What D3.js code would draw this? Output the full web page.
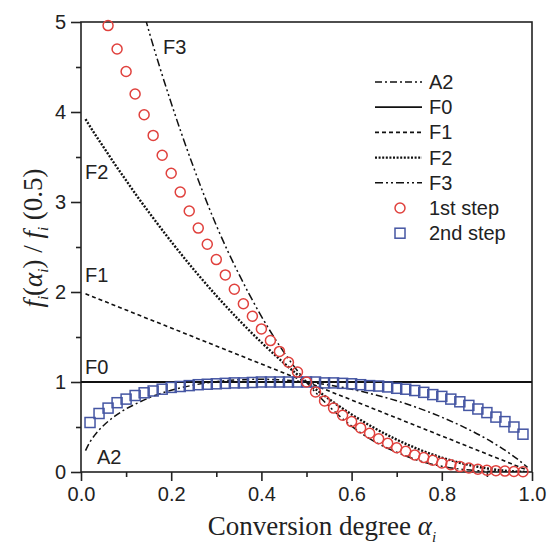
<!DOCTYPE html>
<html>
<head>
<meta charset="utf-8">
<style>
  body { margin: 0; background: #fff; }
  .tick text { font-family: "Liberation Sans", Arial, sans-serif; font-size: 20px; fill: #222; }
  .tick line { stroke: #222; stroke-width: 1.6; }
  .lbl { font-family: "Liberation Sans", Arial, sans-serif; font-size: 20px; fill: #222; }
  .title { font-family: "Liberation Serif", "Times New Roman", serif; font-size: 27px; fill: #222; }
</style>
</head>
<body>
<script src="https://d3js.org/d3.v7.min.js"></script>
<div id="chart"></div>
<script>
// model curves
var alphaLine = [0.01, 0.02, 0.03, 0.05, 0.075, 0.10, 0.125, 0.15, 0.20, 0.25, 0.30, 0.35, 0.40, 0.45, 0.50,
                 0.55, 0.60, 0.65, 0.70, 0.75, 0.80, 0.85, 0.90, 0.95, 0.97, 0.99];
var A2 = [0.238, 0.335, 0.407, 0.517, 0.620, 0.702, 0.765, 0.823, 0.908, 0.966, 1.004, 1.025, 1.030, 1.022, 1.000,
          0.966, 0.920, 0.861, 0.791, 0.707, 0.609, 0.496, 0.365, 0.208, 0.135, 0.052];
var F0 = [1, 1, 1, 1, 1, 1, 1, 1, 1, 1, 1, 1, 1, 1, 1, 1, 1, 1, 1, 1, 1, 1, 1, 1, 1, 1];
var F1 = [1.98, 1.96, 1.94, 1.90, 1.85, 1.80, 1.75, 1.70, 1.60, 1.50, 1.40, 1.30, 1.20, 1.10, 1.00,
          0.90, 0.80, 0.70, 0.60, 0.50, 0.40, 0.30, 0.20, 0.10, 0.06, 0.02];
var F2 = [3.92, 3.84, 3.76, 3.61, 3.42, 3.24, 3.06, 2.89, 2.56, 2.25, 1.96, 1.69, 1.44, 1.21, 1.00,
          0.81, 0.64, 0.49, 0.36, 0.25, 0.16, 0.09, 0.04, 0.01, 0.004, 0.0004];
var F3 = [7.76, 7.53, 7.30, 6.86, 6.33, 5.83, 5.36, 4.91, 4.10, 3.38, 2.74, 2.20, 1.73, 1.33, 1.00,
          0.73, 0.51, 0.34, 0.22, 0.125, 0.064, 0.027, 0.008, 0.001, 0.0002, 0.0];

// experimental points
var alpha1 = [0.06, 0.08, 0.10, 0.12, 0.14, 0.16, 0.18, 0.20, 0.22, 0.24, 0.26, 0.28, 0.30, 0.32, 0.34, 0.36,
              0.38, 0.40, 0.42, 0.44, 0.46, 0.48, 0.50, 0.52, 0.54, 0.56, 0.58, 0.60, 0.62, 0.64, 0.66, 0.68,
              0.70, 0.72, 0.74, 0.76, 0.78, 0.80, 0.82, 0.84, 0.86, 0.88, 0.90, 0.92, 0.94, 0.96, 0.98];
var step1 = [4.96, 4.70, 4.45, 4.20, 3.97, 3.74, 3.52, 3.32, 3.11, 2.90, 2.71, 2.53, 2.36, 2.19, 2.03, 1.87,
             1.73, 1.59, 1.46, 1.34, 1.22, 1.11, 1.00, 0.89, 0.79, 0.71, 0.63, 0.56, 0.49, 0.43, 0.37, 0.32,
             0.27, 0.23, 0.19, 0.16, 0.13, 0.10, 0.08, 0.06, 0.045, 0.03, 0.02, 0.015, 0.01, 0.006, 0.003];
var alpha2 = [0.02, 0.04, 0.06, 0.08, 0.10, 0.12, 0.14, 0.16, 0.18, 0.20, 0.22, 0.24, 0.26, 0.28, 0.30, 0.32,
              0.34, 0.36, 0.38, 0.40, 0.42, 0.44, 0.46, 0.48, 0.50, 0.52, 0.54, 0.56, 0.58, 0.60, 0.62, 0.64,
              0.66, 0.68, 0.70, 0.72, 0.74, 0.76, 0.78, 0.80, 0.82, 0.84, 0.86, 0.88, 0.90, 0.92, 0.94, 0.96, 0.98];
var step2 = [0.55, 0.65, 0.71, 0.77, 0.81, 0.85, 0.88, 0.90, 0.92, 0.94, 0.95, 0.96, 0.97, 0.975, 0.98, 0.985,
             0.99, 0.99, 0.995, 1.0, 1.0, 1.0, 1.0, 1.0, 1.0, 1.0, 0.99, 0.99, 0.985, 0.98, 0.97, 0.96,
             0.955, 0.945, 0.93, 0.92, 0.905, 0.885, 0.86, 0.84, 0.81, 0.78, 0.74, 0.70, 0.66, 0.61, 0.56, 0.50, 0.42];

var xTicks = [0, 0.2, 0.4, 0.6, 0.8, 1.0];
var yTicks = [0, 1, 2, 3, 4, 5];

var width = 547, height = 545;
var x = d3.scaleLinear().domain([0, 1]).range([81, 532]);
var y = d3.scaleLinear().domain([0, 5]).range([472, 22]);

var svg = d3.select("#chart").append("svg")
    .attr("width", width)
    .attr("height", height);

svg.append("clipPath").attr("id", "clip")
  .append("rect")
    .attr("x", x(0)).attr("y", y(5))
    .attr("width", x(1) - x(0)).attr("height", y(0) - y(5));

// axes with minor ticks
svg.append("g").attr("transform", "translate(" + x(0) + ",0)")
    .call(d3.axisLeft(y).tickValues([0.5, 1.5, 2.5, 3.5, 4.5]).tickSize(5).tickFormat(""));
svg.append("g").attr("transform", "translate(" + x(0) + ",0)")
    .call(d3.axisLeft(y).tickValues(yTicks).tickSize(10).tickPadding(5).tickFormat(d3.format("d")));
svg.append("g").attr("transform", "translate(0," + y(0) + ")")
    .call(d3.axisBottom(x).tickValues([0.1, 0.3, 0.5, 0.7, 0.9]).tickSize(5).tickFormat(""));
svg.append("g").attr("transform", "translate(0," + y(0) + ")")
    .call(d3.axisBottom(x).tickValues(xTicks).tickSize(9).tickPadding(6).tickFormat(d3.format(".1f")));
svg.selectAll(".domain").remove();

svg.append("rect")
    .attr("x", x(0)).attr("y", y(5))
    .attr("width", x(1) - x(0)).attr("height", y(0) - y(5))
    .attr("fill", "none").attr("stroke", "#222").attr("stroke-width", 1.6);

// lines
var series = [
  { name: "A2", vals: A2, dash: "7,3,2,3", w: 1.5 },
  { name: "F0", vals: F0, dash: null, w: 1.8 },
  { name: "F1", vals: F1, dash: "4,3", w: 1.6 },
  { name: "F2", vals: F2, dash: "2,1.6", w: 2.4 },
  { name: "F3", vals: F3, dash: "8,3,2,3,2,3", w: 1.5 }
];

var line = d3.line()
    .x(function(d) { return x(d[0]); })
    .y(function(d) { return y(d[1]); })
    .curve(d3.curveMonotoneX);

var plot = svg.append("g").attr("clip-path", "url(#clip)");

series.forEach(function(s) {
  var pts = alphaLine.map(function(a, i) { return [a, s.vals[i]]; });
  if (s.name == "F0") pts = [[0, 1], [1, 1]];
  plot.append("path")
    .datum(pts)
    .attr("d", line)
    .attr("fill", "none")
    .attr("stroke", "#111")
    .attr("stroke-width", s.w)
    .attr("stroke-dasharray", s.dash);
});

// points
var red = "#e0413d", blue = "#4556a3";
svg.selectAll(".sq")
    .data(alpha2)
  .enter().append("rect")
    .attr("class", "sq")
    .attr("x", function(d) { return x(d) - 5; })
    .attr("y", function(d, i) { return y(step2[i]) - 5; })
    .attr("width", 10).attr("height", 10)
    .attr("fill", "none").attr("stroke", blue).attr("stroke-width", 1.5);

svg.selectAll(".dot")
    .data(alpha1)
  .enter().append("circle")
    .attr("class", "dot")
    .attr("cx", function(d) { return x(d); })
    .attr("cy", function(d, i) { return y(step1[i]); })
    .attr("r", 5)
    .attr("fill", "none").attr("stroke", red).attr("stroke-width", 1.5);

// curve labels
var curveLabels = [
  { t: "F3", x: 163, y: 54 },
  { t: "F2", x: 85, y: 179 },
  { t: "F1", x: 85, y: 282 },
  { t: "F0", x: 85, y: 374 },
  { t: "A2", x: 97, y: 464 }
];
svg.selectAll(".clbl")
    .data(curveLabels)
  .enter().append("text")
    .attr("class", "lbl")
    .attr("x", function(d) { return d.x; })
    .attr("y", function(d) { return d.y; })
    .text(function(d) { return d.t; });

// legend
var leg = svg.append("g");
series.forEach(function(s, i) {
  var cy = 82 + i * 25.2;
  leg.append("line")
    .attr("x1", 375).attr("x2", 422).attr("y1", cy).attr("y2", cy)
    .attr("stroke", "#111").attr("stroke-width", s.w)
    .attr("stroke-dasharray", s.dash);
  leg.append("text").attr("class", "lbl")
    .attr("x", 429).attr("y", cy + 7).text(s.name);
});
var cy1 = 82 + 5 * 25.2, cy2 = 82 + 6 * 25.2;
leg.append("circle").attr("cx", 400).attr("cy", cy1).attr("r", 5)
    .attr("fill", "none").attr("stroke", red).attr("stroke-width", 1.5);
leg.append("text").attr("class", "lbl").attr("x", 429).attr("y", cy1 + 7).text("1st step");
leg.append("rect").attr("x", 395).attr("y", cy2 - 5).attr("width", 10).attr("height", 10)
    .attr("fill", "none").attr("stroke", blue).attr("stroke-width", 1.5);
leg.append("text").attr("class", "lbl").attr("x", 429).attr("y", cy2 + 7).text("2nd step");

// axis titles
var xt = svg.append("text").attr("class", "title")
    .attr("x", 322).attr("y", 535).attr("text-anchor", "middle");
xt.append("tspan").text("Conversion degree ");
xt.append("tspan").attr("font-style", "italic").text("α");
xt.append("tspan").attr("font-style", "italic").attr("font-size", "15px").attr("dy", 7).text("i");

var yt = svg.append("text").attr("class", "title")
    .attr("transform", "translate(42,238) rotate(-90)")
    .attr("text-anchor", "middle");
yt.append("tspan").attr("font-style", "italic").text("f");
yt.append("tspan").attr("font-style", "italic").attr("font-size", "15px").attr("dy", 6).text("i");
yt.append("tspan").attr("dy", -6).text("(");
yt.append("tspan").attr("font-style", "italic").text("α");
yt.append("tspan").attr("font-style", "italic").attr("font-size", "15px").attr("dy", 6).text("i");
yt.append("tspan").attr("dy", -6).text(") / ");
yt.append("tspan").attr("font-style", "italic").text("f");
yt.append("tspan").attr("font-style", "italic").attr("font-size", "15px").attr("dy", 6).text("i");
yt.append("tspan").attr("dy", -6).text(" (0.5)");
</script>
</body>
</html>
